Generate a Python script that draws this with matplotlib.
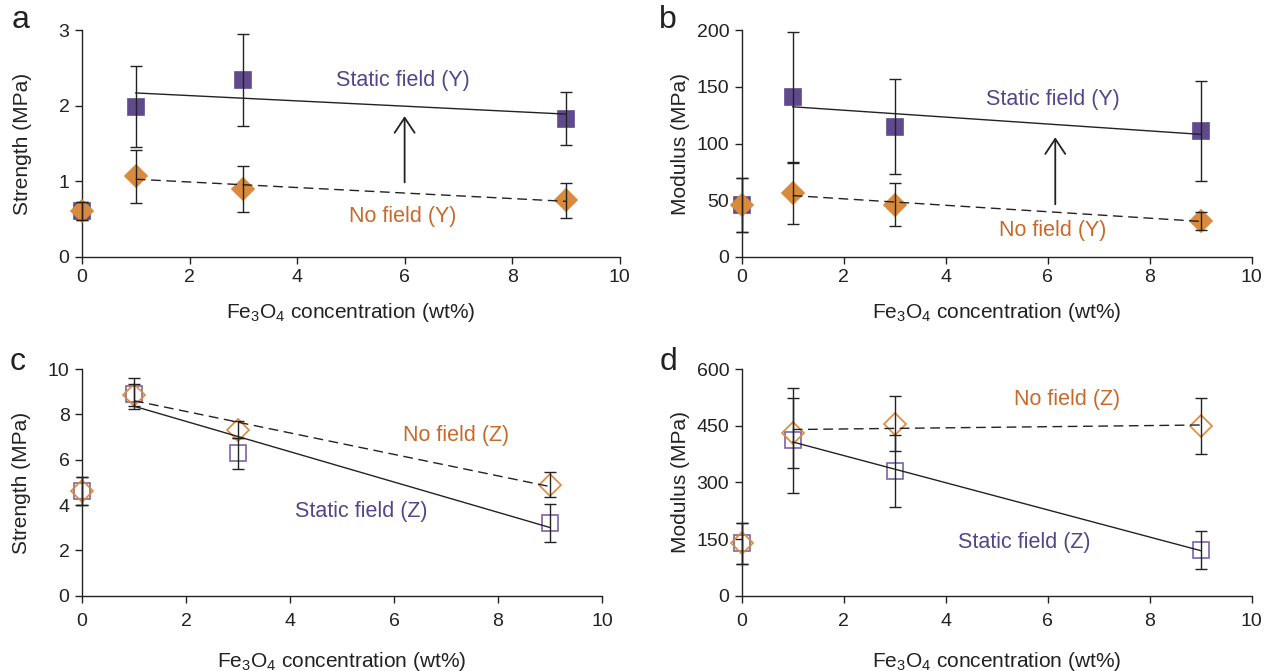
import numpy as np
import matplotlib
matplotlib.use("Agg")
import matplotlib.pyplot as plt

plt.rcParams['font.family'] = ['Liberation Sans', 'DejaVu Sans']
plt.rcParams['mathtext.default'] = 'regular'

# concentrations (wt%)
conc = [0, 1, 3, 9]

# (a) strength, Y direction
str_static_y = [0.61, 1.99, 2.34, 1.83]
str_static_y_err = [0.12, 0.53, 0.61, 0.35]
str_nofield_y = [0.61, 1.07, 0.90, 0.75]
str_nofield_y_err = [0.12, 0.35, 0.30, 0.23]

# (b) modulus, Y direction
mod_static_y = [46, 141, 115, 111]
mod_static_y_err = [24, 57, 42, 44]
mod_nofield_y = [46, 56, 46, 32]
mod_nofield_y_err = [24, 27, 19, 8]

# (c) strength, Z direction
str_static_z = [4.62, 8.92, 6.28, 3.20]
str_static_z_err = [0.60, 0.70, 0.70, 0.83]
str_nofield_z = [4.62, 8.85, 7.33, 4.90]
str_nofield_z_err = [0.60, 0.50, 0.37, 0.55]

# (d) modulus, Z direction
mod_static_z = [139, 411, 330, 121]
mod_static_z_err = [55, 138, 95, 50]
mod_nofield_z = [139, 431, 455, 449]
mod_nofield_z_err = [55, 92, 73, 75]

purple = '#5e4a8c'
purple_open = '#7a64a6'
orange = '#d98a3d'
orange_open = '#e0883a'
purple_txt = '#54448a'
orange_txt = '#c8692a'

fig = plt.figure(figsize=(12.68, 6.71), dpi=100)
ax_a = fig.add_axes([0.0647, 0.617, 0.424, 0.338])
ax_b = fig.add_axes([0.585, 0.617, 0.402, 0.338])
ax_c = fig.add_axes([0.0647, 0.112, 0.410, 0.338])
ax_d = fig.add_axes([0.585, 0.112, 0.402, 0.338])


def style_axis(ax, yticks, ylabel, xpad=4, labelpad=10.5, ypad=12):
    ax.set_xlim(0, 10)
    ax.set_ylim(yticks[0], yticks[-1])
    ax.set_xticks(range(0, 11, 2))
    ax.set_yticks(yticks)
    for s in ['top', 'right']:
        ax.spines[s].set_visible(False)
    for s in ['left', 'bottom']:
        ax.spines[s].set_linewidth(1.0)
        ax.spines[s].set_color('#222222')
    ax.tick_params(direction='out', length=5, width=1.0, labelsize=14,
                   colors='#222222', pad=4)
    ax.tick_params(axis='x', pad=xpad)
    ax.set_ylabel(ylabel, fontsize=15, color='#222222', labelpad=ypad)
    ax.set_xlabel(r'Fe$_3$O$_4$ concentration (wt%)', fontsize=15,
                  color='#222222', labelpad=labelpad)


def trend(ax, y, ls):
    x = np.array(conc[1:])
    k, b = np.polyfit(x, np.array(y[1:]), 1)
    xs = np.array([1, 9])
    if ls == 'dashed':
        ax.plot(xs, k * xs + b, color='#222222', lw=1.0, dashes=(7, 4), zorder=4)
    else:
        ax.plot(xs, k * xs + b, color='#222222', lw=1.0, zorder=4)


def series(ax, y, err, marker, face, edge, ms):
    ax.plot(conc, y, ls='none', marker=marker, ms=ms, mfc=face, mec=edge,
            mew=1.2, zorder=3, clip_on=False)
    ax.errorbar(conc, y, yerr=err, fmt='none', ecolor='#222222',
                elinewidth=1.0, capsize=4, capthick=1.0, zorder=5, clip_on=False)


# a
series(ax_a, str_static_y, str_static_y_err, 's', purple, purple, 11.5)
series(ax_a, str_nofield_y, str_nofield_y_err, 'D', orange, orange, 11)
trend(ax_a, str_static_y, 'solid')
trend(ax_a, str_nofield_y, 'dashed')
style_axis(ax_a, [0, 1, 2, 3], 'Strength (MPa)', ypad=19)
ax_a.annotate('', xy=(6.0, 1.9), xytext=(6.0, 0.95),
              arrowprops=dict(arrowstyle='->,head_width=0.36,head_length=0.54',
                              mutation_scale=20, color='#222222', lw=1.3))
ax_a.text(5.97, 2.34, 'Static field (Y)', color=purple_txt, fontsize=15.5,
          ha='center', va='center')
ax_a.text(5.97, 0.54, 'No field (Y)', color=orange_txt, fontsize=15.5,
          ha='center', va='center')

# b
series(ax_b, mod_static_y, mod_static_y_err, 's', purple, purple, 11.5)
series(ax_b, mod_nofield_y, mod_nofield_y_err, 'D', orange, orange, 11)
trend(ax_b, mod_static_y, 'solid')
trend(ax_b, mod_nofield_y, 'dashed')
style_axis(ax_b, [0, 50, 100, 150, 200], 'Modulus (MPa)', ypad=5)
ax_b.annotate('', xy=(6.15, 108), xytext=(6.15, 44),
              arrowprops=dict(arrowstyle='->,head_width=0.36,head_length=0.54',
                              mutation_scale=20, color='#222222', lw=1.3))
ax_b.text(6.1, 139, 'Static field (Y)', color=purple_txt, fontsize=15.5,
          ha='center', va='center')
ax_b.text(6.1, 23, 'No field (Y)', color=orange_txt, fontsize=15.5,
          ha='center', va='center')

# c
series(ax_c, str_static_z, str_static_z_err, 's', 'none', purple_open, 11.5)
series(ax_c, str_nofield_z, str_nofield_z_err, 'D', 'none', orange_open, 11)
trend(ax_c, str_static_z, 'solid')
trend(ax_c, str_nofield_z, 'dashed')
style_axis(ax_c, [0, 2, 4, 6, 8, 10], 'Strength (MPa)', xpad=7.5, labelpad=14)
ax_c.text(7.2, 7.07, 'No field (Z)', color=orange_txt, fontsize=15.5,
          ha='center', va='center')
ax_c.text(5.38, 3.7, 'Static field (Z)', color=purple_txt, fontsize=15.5,
          ha='center', va='center')

# d
series(ax_d, mod_static_z, mod_static_z_err, 's', 'none', purple_open, 11.5)
series(ax_d, mod_nofield_z, mod_nofield_z_err, 'D', 'none', orange_open, 11)
trend(ax_d, mod_static_z, 'solid')
trend(ax_d, mod_nofield_z, 'dashed')
style_axis(ax_d, [0, 150, 300, 450, 600], 'Modulus (MPa)', xpad=7.5,
           labelpad=14, ypad=5)
ax_d.text(6.38, 519, 'No field (Z)', color=orange_txt, fontsize=15.5,
          ha='center', va='center')
ax_d.text(5.55, 142, 'Static field (Z)', color=purple_txt, fontsize=15.5,
          ha='center', va='center')

# panel letters
for lbl, x, y in [('a', 0.016, 0.97), ('b', 0.527, 0.97),
                  ('c', 0.014, 0.46), ('d', 0.527, 0.46)]:
    fig.text(x, y, lbl, fontsize=23, color='#222222', ha='center', va='center')

fig.savefig('out.png', dpi=100)
